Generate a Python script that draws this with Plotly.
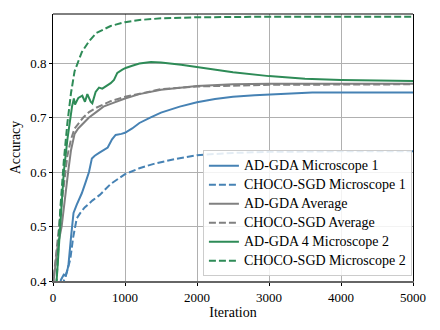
import plotly.graph_objects as go

# AD-GDA Microscope 1
adgda_m1_it = [0, 110, 150, 180, 200, 215, 250, 285, 330, 400, 450, 500, 540, 580, 640, 700, 760, 820, 870,
               950, 1000, 1100, 1200, 1350, 1500, 1760, 2000, 2250, 2500, 2800, 3200, 3600, 5000]
adgda_m1_acc = [0.30, 0.402, 0.412, 0.41, 0.42, 0.43, 0.48, 0.525, 0.54, 0.561, 0.58, 0.60, 0.625, 0.63, 0.635,
                0.64, 0.645, 0.66, 0.668, 0.67, 0.672, 0.68, 0.69, 0.70, 0.709, 0.72, 0.728, 0.734, 0.738,
                0.741, 0.744, 0.746, 0.746]

# CHOCO-SGD Microscope 1
choco_m1_it = [0, 150, 200, 240, 280, 330, 380, 440, 550, 650, 800, 1000, 1200, 1400, 1700, 2000, 2500, 3000,
               4000, 5000]
choco_m1_acc = [0.30, 0.40, 0.42, 0.44, 0.48, 0.515, 0.525, 0.535, 0.548, 0.558, 0.578, 0.596, 0.607, 0.615,
                0.624, 0.631, 0.635, 0.637, 0.638, 0.638]

# AD-GDA Average
adgda_avg_it = [0, 20, 60, 120, 160, 210, 250, 300, 350, 420, 500, 600, 700, 800, 1000, 1200, 1500, 2000,
                2500, 3000, 5000]
adgda_avg_acc = [0.39, 0.41, 0.46, 0.50, 0.55, 0.60, 0.64, 0.67, 0.68, 0.69, 0.70, 0.71, 0.72, 0.725, 0.735,
                 0.743, 0.751, 0.758, 0.761, 0.762, 0.762]

# CHOCO-SGD Average
choco_avg_it = [0, 20, 100, 150, 200, 250, 300, 420, 500, 600, 800, 1000, 1500, 2000, 3000, 5000]
choco_avg_acc = [0.39, 0.42, 0.52, 0.58, 0.63, 0.66, 0.68, 0.70, 0.71, 0.718, 0.73, 0.738, 0.752, 0.757,
                 0.760, 0.761]

# AD-GDA 4 Microscope 2
adgda_m2_it = [0, 50, 100, 150, 200, 240, 264, 290, 306, 352, 407, 444, 477, 523, 546, 592, 639, 685, 731,
               801, 847, 893, 963, 1009, 1100, 1200, 1360, 1500, 1780, 2040, 2500, 3000, 3500, 4000, 5000]
adgda_m2_acc = [0.30, 0.40, 0.50, 0.60, 0.66, 0.70, 0.72, 0.735, 0.724, 0.736, 0.74, 0.729, 0.743, 0.729,
                0.726, 0.747, 0.755, 0.753, 0.757, 0.763, 0.769, 0.782, 0.788, 0.791, 0.795, 0.799, 0.802,
                0.801, 0.797, 0.792, 0.783, 0.776, 0.771, 0.769, 0.767]

# CHOCO-SGD Microscope 2
choco_m2_it = [0, 50, 100, 150, 200, 250, 300, 400, 500, 600, 800, 1000, 1200, 1500, 2000, 3000, 5000]
choco_m2_acc = [0.30, 0.40, 0.53, 0.62, 0.69, 0.745, 0.785, 0.82, 0.84, 0.855, 0.868, 0.875, 0.879, 0.882,
                0.884, 0.885, 0.885]

BLUE = "#4682b4"
GRAY = "#808080"
GREEN = "#2e8b57"

series = [
    ("AD-GDA Microscope 1", adgda_m1_it, adgda_m1_acc, BLUE, "solid"),
    ("CHOCO-SGD Microscope 1", choco_m1_it, choco_m1_acc, BLUE, "7px,3px"),
    ("AD-GDA Average", adgda_avg_it, adgda_avg_acc, GRAY, "solid"),
    ("CHOCO-SGD Average", choco_avg_it, choco_avg_acc, GRAY, "7px,3px"),
    ("AD-GDA 4 Microscope 2", adgda_m2_it, adgda_m2_acc, GREEN, "solid"),
    ("CHOCO-SGD Microscope 2", choco_m2_it, choco_m2_acc, GREEN, "7px,3px"),
]

fig = go.Figure()
for name, x, y, color, dash in series:
    # legend font is set small so rows sit closer; the label itself is drawn at 14px
    fig.add_trace(go.Scatter(x=x, y=y, mode="lines",
                             name=f"<span style='font-size:14px'>{name}</span>",
                             line=dict(color=color, width=2, dash=dash)))

SERIF = "Liberation Serif, serif"

# the page body has an 8px margin, so shift the plot area up/left by that much
fig.update_layout(
    width=440, height=330,
    margin=dict(l=45, r=35, t=6, b=57),
    paper_bgcolor="white", plot_bgcolor="white",
    font=dict(family=SERIF, size=13, color="black"),
    showlegend=True,
    legend=dict(x=0.997, y=0.018, xanchor="right", yanchor="bottom",
                bgcolor="rgba(255,255,255,0.85)", bordercolor="#cccccc", borderwidth=1,
                font=dict(family=SERIF, size=12, color="black"), tracegroupgap=0),
)
fig.update_xaxes(range=[0, 5000], tickvals=[0, 1000, 2000, 3000, 4000, 5000],
                 tickfont=dict(family=SERIF, size=13, color="black"),
                 title=dict(text="Iteration", standoff=1, font=dict(family=SERIF, size=14, color="black")),
                 automargin=False,
                 showgrid=True, gridcolor="#b0b0b0", gridwidth=1,
                 showline=True, linecolor="#666666", linewidth=2,
                 ticks="outside", ticklen=3, tickcolor="black", zeroline=False)
fig.update_yaxes(range=[0.4, 0.89], tickvals=[0.4, 0.5, 0.6, 0.7, 0.8],
                 ticktext=["0.4", "0.5", "0.6", "0.7", "0.8"],
                 tickfont=dict(family=SERIF, size=13, color="black"),
                 title=dict(text="Accuracy", standoff=6, font=dict(family=SERIF, size=14, color="black")),
                 automargin=False,
                 showgrid=True, gridcolor="#b0b0b0", gridwidth=1,
                 showline=True, linecolor="black", linewidth=1, mirror=True,
                 ticks="outside", ticklen=3, tickcolor="black", zeroline=False)
fig.add_shape(type="line", xref="paper", yref="paper", x0=0, x1=1, y0=1, y1=1,
              line=dict(color="black", width=1))

fig.write_html("out.html")
